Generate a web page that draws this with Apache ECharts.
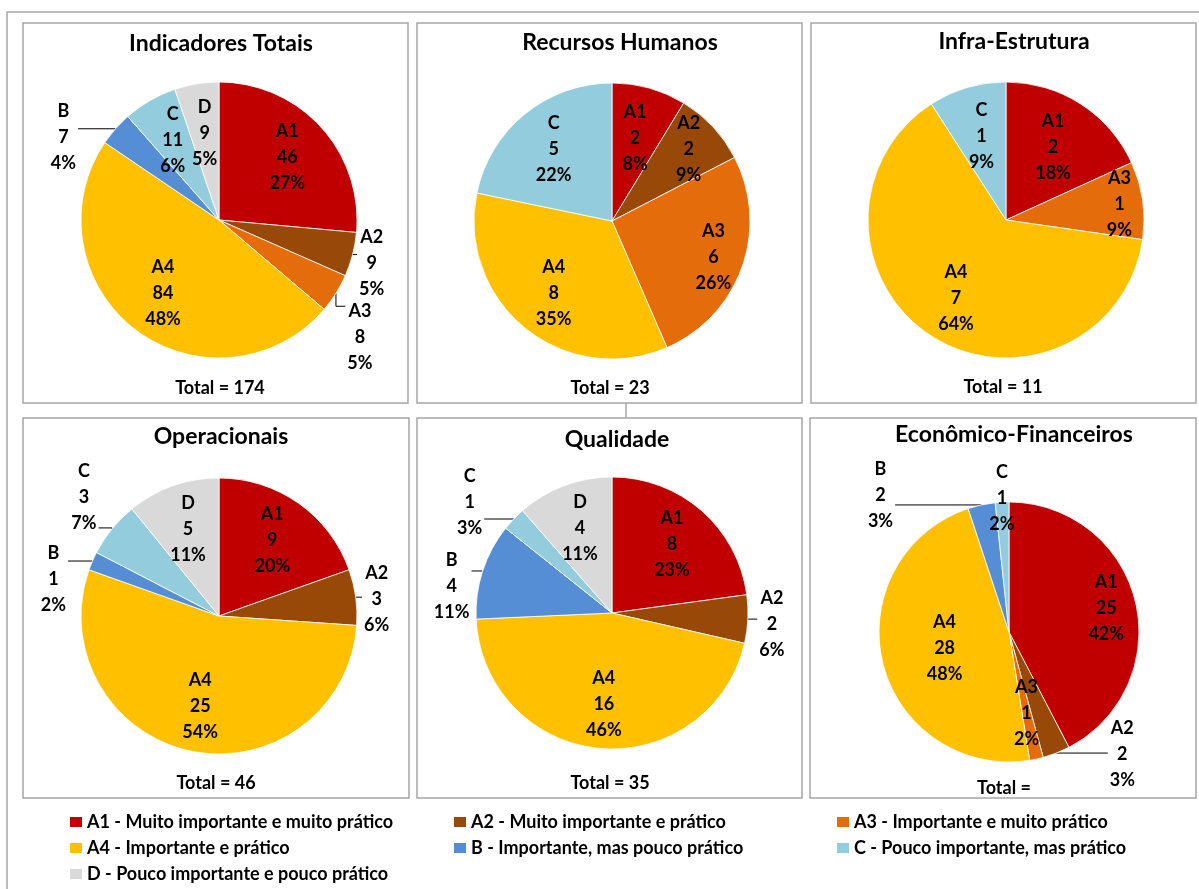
<!DOCTYPE html>
<html>
<head>
<meta charset="utf-8">
<title>Indicadores</title>
<script src="https://cdn.jsdelivr.net/npm/echarts@6.0.0/dist/echarts.min.js"></script>
<style>
  html, body { margin: 0; padding: 0; background: #fff; }
  #chart { width: 1199px; height: 889px; }
</style>
</head>
<body>
<div id="chart"></div>
<script>
// categorias (ordem das fatias, a partir das 12h no sentido horário)
var codes = ['A1', 'A2', 'A3', 'A4', 'B', 'C', 'D'];
var legendNames = [
  'A1 - Muito importante e muito prático',
  'A2 - Muito importante e prático',
  'A3 - Importante e muito prático',
  'A4 - Importante e prático',
  'B - Importante, mas pouco prático',
  'C - Pouco importante, mas prático',
  'D - Pouco importante e pouco prático'
];
var colors = ['#C00000', '#984807', '#E46C0A', '#FFC000', '#558ED5', '#93CDDD', '#D9D9D9'];

var panelTitles = ['Indicadores Totais', 'Recursos Humanos', 'Infra-Estrutura',
  'Operacionais', 'Qualidade', 'Econômico-Financeiros'];
var totalLabels = ['Total = 174', 'Total = 23', 'Total = 11', 'Total = 46', 'Total = 35', 'Total ='];

// valores e percentuais (como aparecem nos rótulos)
var totaisValues = [46, 9, 8, 84, 7, 11, 9];
var totaisPct = ['27%', '5%', '5%', '48%', '4%', '6%', '5%'];
var rhValues = [2, 2, 6, 8, 0, 5, 0];
var rhPct = ['8%', '9%', '26%', '35%', '', '22%', ''];
var infraValues = [2, 0, 1, 7, 0, 1, 0];
var infraPct = ['18%', '', '9%', '64%', '', '9%', ''];
var operValues = [9, 3, 0, 25, 1, 3, 5];
var operPct = ['20%', '6%', '', '54%', '2%', '7%', '11%'];
var qualValues = [8, 2, 0, 16, 4, 1, 4];
var qualPct = ['23%', '6%', '', '46%', '11%', '3%', '11%'];
var ecoValues = [25, 2, 1, 28, 2, 1, 0];
var ecoPct = ['42%', '3%', '2%', '48%', '3%', '2%', ''];

var FONT = 'Lato';

// layout de cada quadro: caixa, centro/raio da pizza, posição dos rótulos
var panels = [
  { values: totaisValues, pct: totaisPct, box: [23, 23, 385, 380], center: [219, 220], r: 138,
    titlePos: [221, 44], totalPos: [220, 388],
    outer: { A2: [19, 9], A3: [24, 44], B: [-52, 8] }, reach: { D: 0.64 } },
  { values: rhValues, pct: rhPct, box: [417, 23, 385, 380], center: [612, 221], r: 138,
    titlePos: [620, 43], totalPos: [610, 388],
    outer: {}, reach: { A1: 0.62, A2: 0.76, A3: 0.78 } },
  { values: infraValues, pct: infraPct, box: [811, 23, 385, 380], center: [1006, 220], r: 138,
    titlePos: [1014, 42], totalPos: [1003, 387],
    outer: {}, reach: { A3: 0.83, A1: 0.63, C: 0.63 } },
  { values: operValues, pct: operPct, box: [23, 418, 386, 380], center: [219, 616], r: 138,
    titlePos: [221, 437], totalPos: [216, 783],
    outer: { A2: [21, 2], B: [-39, 18], C: [-28, -32] }, reach: {} },
  { values: qualValues, pct: qualPct, box: [417, 418, 385, 380], center: [612, 613], r: 136,
    titlePos: [617, 440], totalPos: [610, 783],
    outer: { A2: [24, 5], B: [-31, 15], C: [-44, -17] }, reach: {} },
  { values: ecoValues, pct: ecoPct, box: [810, 418, 386, 380], center: [1009, 632], r: 130,
    titlePos: [1014, 435], totalPos: [1004, 788],
    outer: { A2: [66, 1], B: [-101, -10] }, reach: { A1: 0.77, A4: 0.51, A3: 0.64, C: 1.03 } }
];

var series = [];
var graphics = [
  // moldura externa
  { type: 'rect', shape: { x: 7, y: 12, width: 1210, height: 900 },
    style: { fill: 'none', stroke: '#A6A6A6', lineWidth: 1.5 } },
  { type: 'line', shape: { x1: 626, y1: 403, x2: 626, y2: 418 },
    style: { stroke: '#A6A6A6', lineWidth: 1.5 } }
];

panels.forEach(function (p, pi) {
  var sum = 0;
  p.values.forEach(function (v) { sum += v; });
  var data = [], layouts = [], acc = 0;
  p.values.forEach(function (v, i) {
    if (!v) return;
    var code = codes[i];
    var mid = (acc + v / 2) / sum * Math.PI * 2;
    acc += v;
    var off = p.outer[code];
    data.push({
      name: legendNames[i], value: v, code: code, pct: p.pct[i],
      itemStyle: { color: colors[i] },
      label: { position: off ? 'outside' : 'inside' },
      labelLine: { show: !!off }
    });
    layouts.push({ nx: Math.sin(mid), ny: -Math.cos(mid), off: off, reach: p.reach[code] || 0.67 });
  });

  series.push({
    type: 'pie',
    center: p.center,
    radius: p.r,
    startAngle: 90,
    clockwise: true,
    avoidLabelOverlap: false,
    animation: false,
    data: data,
    itemStyle: { borderColor: '#fff', borderWidth: 0.8 },
    emphasis: { scale: false },
    label: {
      show: true, color: '#000', fontFamily: FONT, fontWeight: 'bold', fontSize: 18, lineHeight: 26,
      formatter: function (prm) { return prm.data.code + '\n' + prm.value + '\n' + prm.data.pct; }
    },
    labelLine: { show: true, smooth: false, lineStyle: { color: '#000', width: 1 } },
    labelLayout: function (prm) {
      var L = layouts[prm.dataIndex];
      var cx = p.center[0], cy = p.center[1];
      if (!L.off) {
        return { x: cx + L.reach * p.r * L.nx, y: cy + L.reach * p.r * L.ny,
          align: 'center', verticalAlign: 'middle' };
      }
      var px = cx + p.r * L.nx, py = cy + p.r * L.ny;
      var lx = px + L.off[0], ly = py + L.off[1];
      var hw = prm.labelRect.width / 2, hh = prm.labelRect.height / 2;
      var qx = lx > px ? lx - hw - 2 : lx + hw + 2;
      var qy = Math.max(ly - hh + 8, Math.min(ly + hh - 8, py));
      return { x: lx, y: ly, align: 'center', verticalAlign: 'middle',
        labelLinePoints: [[px, py], [px, qy], [qx, qy]] };
    }
  });

  graphics.push({ type: 'rect', shape: { x: p.box[0], y: p.box[1], width: p.box[2], height: p.box[3] },
    style: { fill: 'none', stroke: '#A6A6A6', lineWidth: 1.5 } });
  graphics.push({ type: 'text', x: p.titlePos[0], y: p.titlePos[1], z: 10,
    style: { text: panelTitles[pi], align: 'center', verticalAlign: 'middle',
      font: 'bold 23px ' + FONT, fill: '#000' } });
  graphics.push({ type: 'text', x: p.totalPos[0], y: p.totalPos[1], z: 10,
    style: { text: totalLabels[pi], align: 'center', verticalAlign: 'middle',
      font: 'bold 18px ' + FONT, fill: '#000' } });
});

// legenda em 3 colunas
var legendCols = [[0, 3, 6], [1, 4], [2, 5]];
var legendLeft = [70, 454, 837];
var legends = legendCols.map(function (col, k) {
  return {
    orient: 'vertical', left: legendLeft[k], top: 812, padding: 0,
    itemGap: 6, itemWidth: 12, itemHeight: 10, icon: 'rect',
    itemStyle: { borderWidth: 0 },
    data: col.map(function (i) { return legendNames[i]; }),
    textStyle: { fontFamily: FONT, fontWeight: 'bold', fontSize: 18, lineHeight: 20, color: '#000' }
  };
});

var chart = echarts.init(document.getElementById('chart'));
chart.setOption({
  backgroundColor: '#fff',
  legend: legends,
  graphic: graphics,
  series: series
});
</script>
</body>
</html>
